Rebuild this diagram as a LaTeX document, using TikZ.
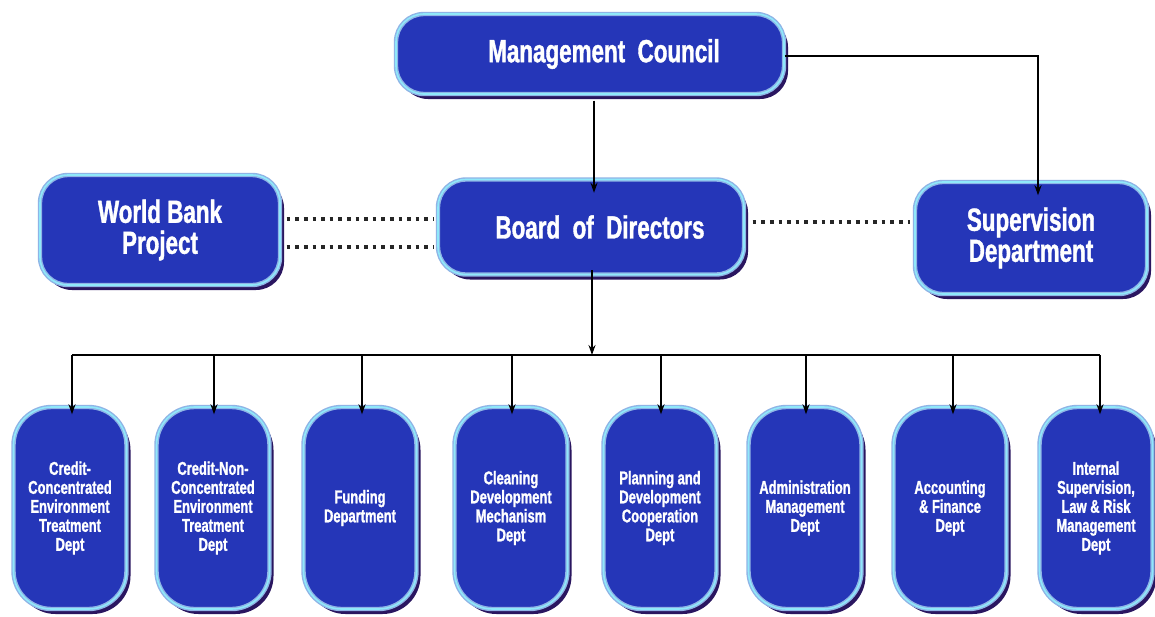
\documentclass[tikz,border=0pt]{standalone}
\usepackage{fontspec}
\setmainfont{Liberation Sans}[FakeStretch=0.7, BoldFeatures={FakeBold=1.2}]
\usetikzlibrary{shadows,arrows.meta}
\definecolor{boxblue}{HTML}{2536B8}
\definecolor{ringcol}{HTML}{8FB4E6}
\definecolor{ringin}{HTML}{8FE8FA}
\definecolor{shadowcol}{HTML}{2A1660}
\tikzset{
  box/.style={rounded corners=#1, fill=boxblue, draw=ringcol, line width=1.4pt,
    double=ringin, double distance=1.6pt, text=white, align=center, inner sep=0pt,
    drop shadow={shadow xshift=4pt, shadow yshift=-5pt, fill=shadowcol, opacity=1}},
  box/.default=28pt,
  big/.style={font=\fontsize{32}{31}\selectfont\bfseries},
  small/.style={font=\fontsize{18.5}{19}\selectfont\bfseries},
  dept/.style={box=38pt, small, minimum width=113pt, minimum height=202pt},
  conn/.style={line width=1.6pt, black},
  arr/.style={conn, -{Stealth[length=10pt,width=7pt]}},
  dots/.style={line width=3.6pt, dash pattern=on 3.6pt off 5pt, black!85}
}
\begin{document}
\begin{tikzpicture}[x=1pt,y=-1pt]
\useasboundingbox (0,0) rectangle (1155,616);
\fill[white] (0,0) rectangle (1155,616);
\node[box, big, minimum width=388pt, minimum height=80pt] (mc) at (590,54) {\hspace*{28pt}Management\ \ Council};
\node[box, big, minimum width=306pt, minimum height=95pt] (bod) at (591,227) {\hspace*{18pt}Board\ \ of\ \ Directors};
\node[box, big, minimum width=240pt, minimum height=110pt] (wb) at (160,230) {World Bank\\Project};
\node[box, big, minimum width=232pt, minimum height=112pt] (sup) at (1031,238) {Supervision\\Department};
\node[dept] (d1) at (70,508) {Credit-\\Concentrated\\Environment\\Treatment\\Dept};
\node[dept] (d2) at (213,508) {Credit-Non-\\Concentrated\\Environment\\Treatment\\Dept};
\node[dept] (d3) at (360,508) {Funding\\Department};
\node[dept] (d4) at (511,508) {Cleaning\\Development\\Mechanism\\Dept};
\node[dept] (d5) at (660,508) {Planning and\\Development\\Cooperation\\Dept};
\node[dept] (d6) at (805,508) {Administration\\Management\\Dept};
\node[dept] (d7) at (950,508) {Accounting\\\& Finance\\Dept};
\node[dept] (d8) at (1096,508) {Internal\\Supervision,\\Law \& Risk\\Management\\Dept};
% connectors
\draw[arr] ([xshift=4pt,yshift=-6pt]mc.south) -- ([xshift=3pt,yshift=-14pt]bod.north);
\coordinate (mcr) at ([yshift=-2pt]mc.east);
\coordinate (bus) at (592,355);
\draw[arr] (mcr) -| ([xshift=7pt,yshift=-14pt]sup.north);
\draw[arr] ([xshift=1pt,yshift=5pt]bod.south) -- (bus);
\draw[conn] (72,355) -- (1100,355);
\foreach \i/\x in {1/72,2/214,3/362,4/512,5/661,6/806,7/953,8/1100}{
  \draw[arr] (\x,355) -- ([yshift=-8pt]d\i.north -| \x,0);
}
\draw[dots] ([xshift=6pt]wb.east |- 0,219) -- ([xshift=-4pt]bod.west |- 0,219);
\draw[dots] ([xshift=6pt]wb.east |- 0,247) -- ([xshift=-4pt]bod.west |- 0,247);
\draw[dots] ([xshift=8pt]bod.east |- 0,222) -- ([xshift=-4pt]sup.west |- 0,222);
\end{tikzpicture}
\end{document}
